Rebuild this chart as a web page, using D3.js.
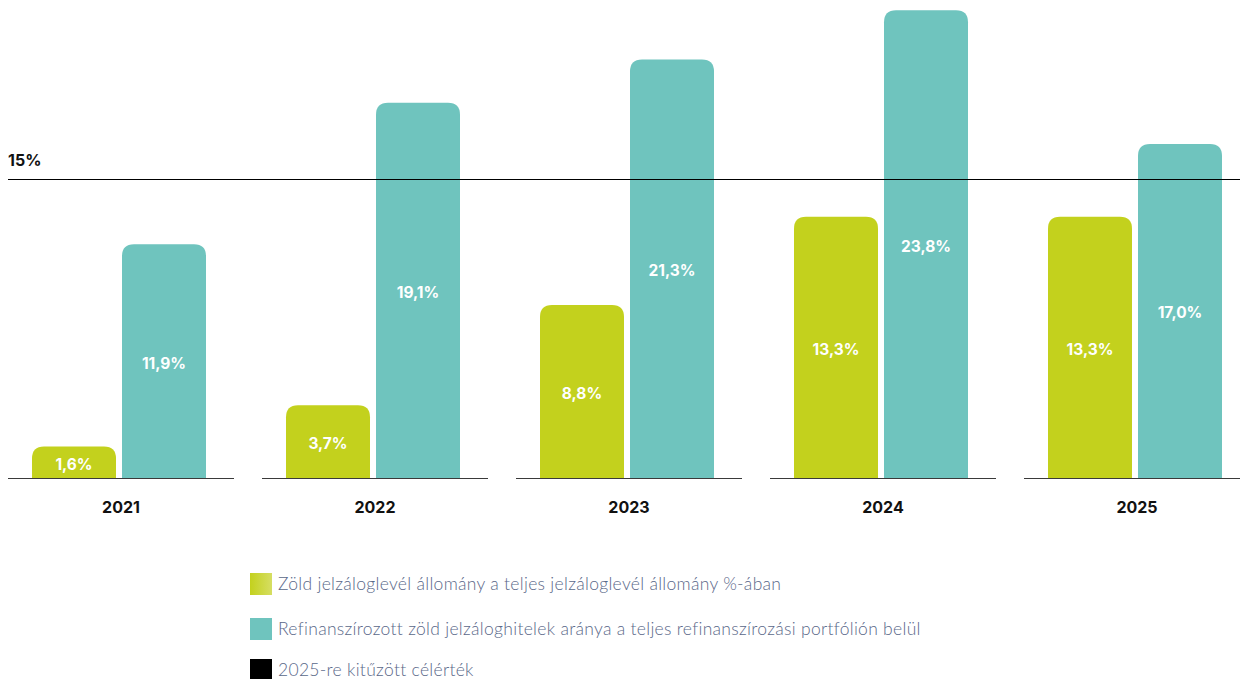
<!DOCTYPE html>
<html>
<head>
<meta charset="utf-8">
<script src="https://cdn.jsdelivr.net/npm/d3@7"></script>
<style>
    body { margin: 0; background: #fff; }
    svg { display: block; }
</style>
</head>
<body>
<svg id="chart" width="1240" height="679"></svg>
<script>
const years = ["2021", "2022", "2023", "2024", "2025"];
const seriesKeys = ["zold", "refi"];
const zoldValues = [1.6, 3.7, 8.8, 13.3, 13.3];
const refiValues = [11.9, 19.1, 21.3, 23.8, 17.0];
const targetValue = 15;
const targetLabel = "15%";
const legendLabels = [
    "Zöld jelzáloglevél állomány a teljes jelzáloglevél állomány %-ában",
    "Refinanszírozott zöld jelzáloghitelek aránya a teljes refinanszírozási portfólión belül",
    "2025-re kitűzött célérték"
];

const largeur = 1240,
    baseY = 478,
    radius = 12;

const colors = { zold: "#c3d11d", refi: "#6fc4be" };

const svgSpace = d3.select("#chart");

const defs = svgSpace.append("defs");
const grad = defs.append("linearGradient").attr("id", "greenGrad");
grad.append("stop").attr("offset", "0%").attr("stop-color", "#c3d11d");
grad.append("stop").attr("offset", "100%").attr("stop-color", "#d6de63");

// scales
const x0 = d3.scaleBand().domain(years).range([8, 1250]).paddingInner(28 / 254).paddingOuter(0);
const x1 = d3.scaleBand().domain(seriesKeys).range([24, 198]).paddingInner(6 / 90).paddingOuter(0);
const y = d3.scaleLinear().domain([0, 478 / 19.65]).range([baseY, 0]);

const data = years.map((yr, i) => ({ year: yr, zold: zoldValues[i], refi: refiValues[i] }));

// rounded top bar
function barPath(x, top, w, bottom) {
    const r = Math.min(radius, (bottom - top), w / 2);
    return "M" + x + "," + bottom +
        "V" + (top + r) +
        "Q" + x + "," + top + " " + (x + r) + "," + top +
        "H" + (x + w - r) +
        "Q" + (x + w) + "," + top + " " + (x + w) + "," + (top + r) +
        "V" + bottom + "Z";
}

const groups = svgSpace.append("g")
    .selectAll("g")
    .data(data)
    .enter()
    .append("g")
    .attr("transform", (d) => "translate(" + x0(d.year) + ",0)");

groups.selectAll("path")
    .data((d) => seriesKeys.map((k) => ({ key: k, value: d[k] })))
    .enter()
    .append("path")
    .attr("fill", (d) => colors[d.key])
    .attr("d", (d) => barPath(x1(d.key), y(d.value), x1.bandwidth(), baseY));

groups.selectAll("text.val")
    .data((d) => seriesKeys.map((k) => ({ key: k, value: d[k] })))
    .enter()
    .append("text")
    .attr("class", "val")
    .text((d) => d3.format(".1f")(d.value).replace(".", ",") + "%")
    .attr("x", (d) => x1(d.key) + x1.bandwidth() / 2)
    .attr("y", (d) => (y(d.value) + baseY) / 2 + 2)
    .attr("dy", "0.35em")
    .attr("fill", "white")
    .style("font-family", "Inter, 'Open Sans', sans-serif")
    .style("font-weight", "700")
    .style("font-size", "15.5px")
    .style("text-anchor", "middle");

// baselines per group
groups.append("line")
    .attr("x1", 0)
    .attr("x2", x0.bandwidth())
    .attr("y1", baseY + 0.5)
    .attr("y2", baseY + 0.5)
    .attr("stroke", "#3a3a3a")
    .attr("stroke-width", 1.2);

// year labels
groups.append("text")
    .text((d) => d.year)
    .attr("x", x0.bandwidth() / 2)
    .attr("y", 513)
    .attr("fill", "#111")
    .style("font-family", "Inter, 'Open Sans', sans-serif")
    .style("font-weight", "700")
    .style("font-size", "16px")
    .style("text-anchor", "middle");

// target line
const lineY = Math.round(y(targetValue)) - 3.5;
svgSpace.append("line")
    .attr("x1", 8)
    .attr("x2", largeur)
    .attr("y1", lineY)
    .attr("y2", lineY)
    .attr("stroke", "#000")
    .attr("stroke-width", 1);

svgSpace.append("text")
    .text(targetLabel)
    .attr("x", 8)
    .attr("y", lineY - 14)
    .attr("fill", "#111")
    .style("font-family", "Inter, 'Open Sans', sans-serif")
    .style("font-weight", "700")
    .style("font-size", "16px");

// legend
const legendFills = ["url(#greenGrad)", colors.refi, "#000"];
const legend = svgSpace.append("g")
    .selectAll("g")
    .data(legendLabels)
    .enter()
    .append("g")
    .attr("transform", (d, i) => "translate(250," + [573, 618, 659][i] + ")");

legend.append("rect")
    .attr("width", 22)
    .attr("height", 22)
    .attr("fill", (d, i) => legendFills[i]);

legend.append("text")
    .text((d) => d)
    .attr("x", 28)
    .attr("y", 11)
    .attr("dy", "0.35em")
    .attr("fill", "#5a6889")
    .style("font-family", "Lato, 'Open Sans', sans-serif")
    .style("font-weight", "300")
    .style("font-size", "17.5px")
    .style("letter-spacing", "0.3px");
</script>
</body>
</html>
